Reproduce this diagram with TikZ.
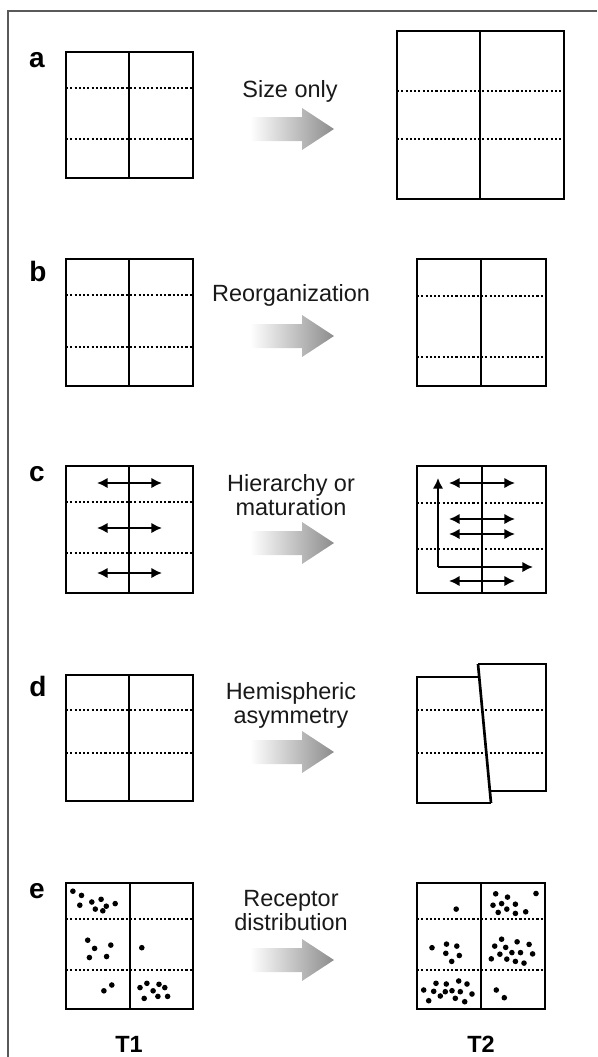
\documentclass[tikz,border=0pt]{standalone}
\usepackage{fontspec}
\setmainfont{Liberation Sans}
\usetikzlibrary{arrows.meta}
\begin{document}
\begin{tikzpicture}[x=0.75pt,y=-0.75pt,
  boite/.style={line width=2pt},
  pointille/.style={line width=2pt, dash pattern=on 1.6pt off 1.6pt},
  lettre/.style={font=\fontsize{21}{24}\selectfont\bfseries},
  legende/.style={font=\fontsize{17.6}{18}\selectfont, align=center, text=black!90},
  fleche/.style={line width=2pt, {Latex[length=8pt,width=8pt]}-{Latex[length=8pt,width=8pt]}},
  simple/.style={line width=2pt, -{Latex[length=8pt,width=8pt]}},
  grise/.style={left color=white, right color=black!45, draw=none}]

\useasboundingbox (0,0) rectangle (597,1057);

% Cadre
\draw[line width=1.8pt, black!65] (8,1057) -- (8,11) -- (597,11);

% Fleches grises
\foreach \y in {129,336,543,752,960}
  \shade[grise] (250,\y-12) -- (302,\y-12) -- (302,\y-21) -- (334,\y)
    -- (302,\y+21) -- (302,\y+12) -- (250,\y+12) -- cycle;

% Panneau a
\node[lettre] (pa) at (37,60) {a};
\draw[boite] (66,52) rectangle (193,178);
\draw[boite] (129,52) -- (129,178);
\draw[pointille] (66,88) -- (193,88);
\draw[pointille] (66,139) -- (193,139);
\node[legende] (taille) at (290,91) {Size only};
\draw[boite] (397,31) rectangle (564,199);
\draw[boite] (480,31) -- (480,199);
\draw[pointille] (397,91) -- (564,91);
\draw[pointille] (397,139) -- (564,139);

% Panneau b
\node[lettre] (pb) at (38,271) {b};
\draw[boite] (66,259) rectangle (193,386);
\draw[boite] (129,259) -- (129,386);
\draw[pointille] (66,295) -- (193,295);
\draw[pointille] (66,347) -- (193,347);
\node[legende] (reorg) at (291,295) {Reorganization};
\draw[boite] (417,259) rectangle (546,386);
\draw[boite] (481,259) -- (481,386);
\draw[pointille] (417,296) -- (546,296);
\draw[pointille] (417,357) -- (546,357);

% Panneau c
\node[lettre] (pc) at (37,474) {c};
\draw[boite] (66,466) rectangle (193,593);
\draw[boite] (129,466) -- (129,593);
\draw[pointille] (66,502) -- (193,502);
\draw[pointille] (66,553) -- (193,553);
\foreach \y in {483,528,573}
  \draw[fleche] (97,\y) -- (162,\y);
\node[legende] (hier) at (291,495) {Hierarchy or\\maturation};
\draw[boite] (417,466) rectangle (546,593);
\draw[boite] (482,466) -- (482,593);
\draw[pointille] (417,503) -- (546,503);
\draw[pointille] (417,549) -- (546,549);
\foreach \y in {483,519,534,581}
  \draw[fleche] (449,\y) -- (515,\y);
\coordinate (coin) at (438,567);
\draw[simple] (coin) -- (438,478);
\draw[simple] (coin) -- (533,567);

% Panneau d
\node[lettre] (pd) at (38,686) {d};
\draw[boite] (66,675) rectangle (193,801);
\draw[boite] (129,675) -- (129,801);
\draw[pointille] (66,710) -- (193,710);
\draw[pointille] (66,753) -- (193,753);
\node[legende] (hemi) at (291,705) {Hemispheric\\asymmetry};
\draw[boite] (479.2,677) -- (417,677) -- (417,803) -- (491,803);
\draw[boite] (489.9,791) -- (546,791) -- (546,664) -- (478,664);
\draw[boite] (478,664) -- (491,803);
\draw[pointille] (417,710) -- (546,710);
\draw[pointille] (417,753) -- (546,753);

% Panneau e
\node[lettre] (pe) at (37,891) {e};
\draw[boite] (66,883) rectangle (193,1009);
\draw[boite] (130,883) -- (130,1009);
\draw[pointille] (66,919) -- (193,919);
\draw[pointille] (66,970) -- (193,970);
\foreach \x/\y in {72.9/891.2, 81.5/895.4, 79.8/905.2, 91.8/902, 101.1/899.3,
    95.3/909.1, 102.8/910.8, 106.3/906.2, 115.2/903.6,
    87.7/940.2, 94.6/948.4, 110.8/945.1, 89.4/957.5, 106.6/956.5,
    141.8/947.7, 111.8/985, 103.9/990.8,
    140/987.6, 146.9/983.3, 153.1/990.8, 159/984.3, 164.8/987.6,
    144.2/998.4, 157.9/996.4, 167.6/996.4}
  \fill (\x,\y) circle[radius=2.8];
\node[legende] (recep) at (291,911) {Receptor\\distribution};
\draw[boite] (417,883) rectangle (545,1009);
\draw[boite] (481,883) -- (481,1009);
\draw[pointille] (417,919) -- (545,919);
\draw[pointille] (417,970) -- (545,970);
\foreach \x/\y in {456.2/909.1,
    495.7/893.8, 507.5/897.1, 536/893.5, 501.6/903.6, 493/905.2,
    515.4/904.2, 498.2/912.4, 506.8/909.1, 515.4/913.4, 525.7/911.8,
    432/947.7, 446.5/944.1, 456.8/946.1, 445.8/953.3, 459.3/955.5, 451.7/961.4,
    501.6/939.2, 517.1/941.8, 494.7/946.1, 505.7/947.4, 529.1/944.4,
    499.9/954.2, 511.9/952.6, 520.5/952.6, 532.6/953.9, 491.3/958.8,
    506.8/959.1, 515.4/961.4, 524/963.1,
    436/983.3, 446.3/984, 458.7/981, 467/984, 423.7/990, 433.7/991.3,
    445.3/991.7, 452/990.7, 460.3/991.7, 440.3/996, 472/994, 455.3/998.3,
    428.7/1000.7, 464.7/1001.7,
    496.3/990, 504.3/997.7}
  \fill (\x,\y) circle[radius=2.8];

% Temps
\node[lettre, font=\fontsize{17.6}{20}\selectfont\bfseries] (t1) at (129,1044) {T1};
\node[lettre, font=\fontsize{17.6}{20}\selectfont\bfseries] (t2) at (481,1044) {T2};

\end{tikzpicture}
\end{document}
